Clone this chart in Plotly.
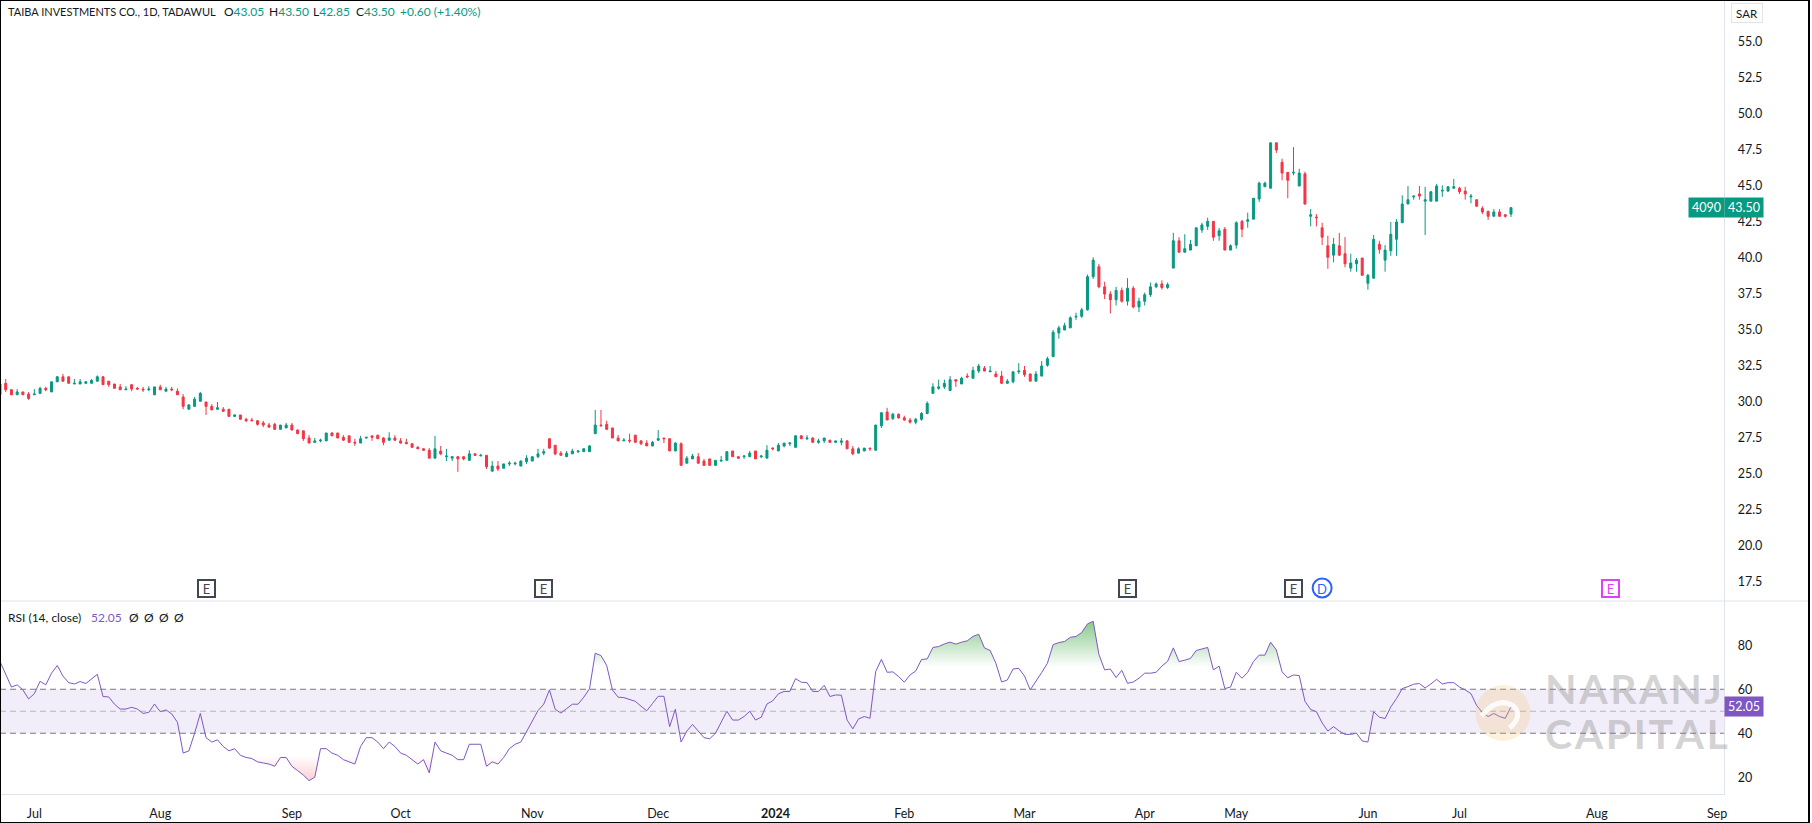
import plotly.graph_objects as go

# TADAWUL:4090 daily bars (bar number = trading day on screen)
bar_open = [30.50,31.30,30.85,30.50,30.70,30.55,30.50,30.60,30.95,30.70,
    31.40,31.75,31.75,31.25,31.25,31.30,31.30,31.45,31.75,31.45,
    31.25,31.05,30.85,31.20,30.95,30.90,30.85,30.50,31.05,30.75,
    30.90,30.75,30.35,29.50,29.70,30.05,30.00,29.70,29.50,29.50,
    29.50,29.00,29.10,28.80,28.75,28.70,28.55,28.40,28.45,28.10,
    28.20,28.40,28.05,28.00,27.50,27.20,27.30,27.30,27.85,27.85,
    27.55,27.65,27.20,27.15,27.50,27.65,27.70,27.50,27.35,27.50,
    27.30,27.20,27.10,26.85,26.75,26.65,26.10,26.60,26.20,26.10,
    26.20,26.20,25.95,26.40,26.25,26.30,25.20,25.55,25.40,25.70,
    25.70,25.55,25.85,25.90,26.20,26.45,27.45,27.00,26.45,26.20,
    26.40,26.55,26.55,26.55,27.80,28.40,28.45,28.20,27.50,27.30,
    27.35,27.70,27.30,27.15,26.95,27.35,27.50,27.45,26.60,27.10,
    25.75,26.05,26.20,25.90,26.05,25.60,25.90,25.95,26.60,26.20,
    26.20,26.20,26.60,26.20,26.10,26.80,26.60,26.95,27.10,26.85,
    27.65,27.45,27.50,27.20,27.30,27.35,27.20,27.20,27.30,26.75,
    26.45,26.60,26.80,26.65,28.35,29.30,28.85,29.15,28.90,28.75,
    28.60,28.80,29.20,30.60,30.95,31.05,30.80,31.55,31.25,31.80,
    31.65,32.15,32.35,32.10,31.95,31.80,31.30,31.40,32.10,32.20,
    31.95,31.45,31.80,32.55,33.15,34.80,35.00,35.15,35.90,35.95,
    36.40,38.70,39.40,38.00,37.50,37.10,37.75,37.00,37.90,36.60,
    37.00,37.45,38.00,38.20,37.95,39.30,41.20,40.40,40.55,40.85,
    41.95,42.20,42.55,41.55,42.00,40.55,40.90,42.55,42.55,42.70,
    44.10,44.95,44.85,48.00,46.65,45.95,45.90,45.00,45.85,42.90,
    42.85,42.10,40.85,40.20,40.85,40.30,39.30,39.60,40.00,38.25,
    38.60,40.95,39.85,40.50,41.30,42.45,43.75,44.25,44.45,43.95,
    43.95,43.95,44.65,44.65,44.85,44.85,44.65,44.25,44.05,43.45,
    43.25,42.90,43.20,43.00,43.05]
bar_high = [31.25,31.60,30.90,30.90,30.70,30.70,30.90,31.05,31.05,31.40,
    31.80,31.95,31.75,31.60,31.60,31.45,31.60,31.85,31.80,31.45,
    31.25,31.25,31.10,31.25,31.05,31.05,31.10,31.05,31.20,31.05,
    31.05,30.95,30.55,29.85,30.35,30.70,30.00,29.85,30.00,29.65,
    29.50,29.15,29.10,28.90,28.90,28.75,28.70,28.55,28.55,28.40,
    28.55,28.55,28.10,28.00,27.70,27.50,27.45,27.85,27.90,27.85,
    27.70,27.65,27.45,27.65,27.55,27.65,27.70,27.55,27.90,27.70,
    27.50,27.45,27.15,26.95,26.80,26.80,27.65,26.95,26.75,26.25,
    26.25,26.20,26.65,26.45,26.40,26.30,25.90,25.90,25.70,25.90,
    25.85,25.95,26.30,26.20,26.75,26.75,27.45,27.00,26.60,26.60,
    26.75,26.65,26.80,27.00,29.45,29.45,28.70,28.20,27.70,27.50,
    27.80,27.70,27.35,27.35,27.30,28.05,27.50,27.45,27.20,27.20,
    26.25,26.40,26.45,26.05,26.05,25.95,26.25,26.60,26.60,26.25,
    26.30,26.60,26.60,26.30,27.00,26.85,27.15,27.15,27.20,27.70,
    27.70,27.70,27.55,27.45,27.50,27.35,27.30,27.50,27.35,26.95,
    26.85,26.80,26.80,28.40,29.30,29.60,29.25,29.20,29.05,28.90,
    28.90,29.30,30.05,31.30,31.55,31.55,31.80,31.55,31.75,32.00,
    32.45,32.65,32.50,32.50,32.15,32.15,31.60,32.10,32.70,32.50,
    31.95,32.15,32.85,33.15,35.00,35.30,35.50,35.95,36.20,36.55,
    38.85,40.05,39.60,38.35,37.70,38.00,37.95,38.60,38.05,37.25,
    37.60,38.30,38.30,38.45,38.30,41.75,41.45,41.65,41.25,42.10,
    42.45,42.80,42.55,42.10,42.15,40.95,42.55,42.65,43.15,44.15,
    45.30,45.30,48.00,48.00,46.90,45.95,47.70,46.20,46.00,43.40,
    43.05,42.45,41.55,41.40,41.75,41.45,40.30,40.00,40.00,38.90,
    41.60,41.20,40.90,42.50,42.70,44.35,45.00,44.35,45.00,44.95,
    44.65,45.15,45.05,45.00,45.50,44.95,44.95,44.45,44.05,43.60,
    43.25,43.40,43.40,43.05,43.50]
bar_low = [30.50,30.70,30.50,30.50,30.50,30.15,30.50,30.55,30.75,30.70,
    31.40,31.40,31.30,31.25,31.25,31.25,31.30,31.40,31.20,31.05,
    30.95,30.85,30.85,30.75,30.85,30.70,30.75,30.50,30.85,30.75,
    30.75,30.50,29.50,29.50,29.65,30.05,29.10,29.45,29.45,29.35,
    29.00,29.00,28.80,28.60,28.70,28.35,28.25,28.25,28.10,28.10,
    28.20,28.05,27.80,27.30,27.15,27.15,27.20,27.30,27.65,27.50,
    27.30,27.20,26.95,27.15,27.45,27.30,27.45,27.00,27.30,27.30,
    27.10,27.10,26.85,26.75,26.60,26.10,26.10,26.30,25.90,25.90,
    25.15,25.95,25.95,26.25,26.25,25.35,25.15,25.20,25.40,25.55,
    25.60,25.55,25.70,25.90,26.10,26.30,26.75,26.30,26.30,26.20,
    26.40,26.45,26.55,26.55,27.80,28.30,28.05,27.50,27.30,27.30,
    27.15,27.20,27.00,26.95,26.95,27.30,27.15,26.60,26.60,25.60,
    25.75,26.05,25.75,25.60,25.60,25.60,25.85,25.95,26.20,26.05,
    26.05,26.20,26.05,26.10,26.10,26.65,26.60,26.85,26.95,26.85,
    27.45,27.35,27.20,27.10,27.15,27.15,27.15,27.00,26.75,26.30,
    26.45,26.60,26.60,26.65,28.20,28.75,28.75,28.85,28.70,28.50,
    28.45,28.70,29.15,30.60,30.85,30.90,30.75,31.05,31.25,31.65,
    31.65,32.00,32.15,32.10,31.75,31.25,31.25,31.30,31.95,31.75,
    31.45,31.45,31.80,32.45,33.15,34.40,35.00,35.15,35.70,35.85,
    36.35,38.55,37.90,37.15,36.15,36.70,36.90,36.70,36.50,36.25,
    36.70,37.30,37.90,37.80,37.85,39.30,40.40,40.40,40.55,40.85,
    41.75,41.95,41.20,41.20,40.55,40.55,40.65,41.45,42.10,42.70,
    43.90,44.95,44.85,47.30,45.40,44.15,45.75,45.00,43.70,42.20,
    42.20,40.90,39.25,39.70,40.15,39.35,39.05,39.05,38.80,37.80,
    38.60,40.30,39.05,40.15,40.15,42.45,43.75,44.05,44.05,41.60,
    43.95,43.95,44.25,44.60,44.80,44.45,44.05,43.80,43.55,43.05,
    42.65,42.90,42.85,42.80,42.85]
bar_close = [31.25,30.85,30.50,30.70,30.50,30.25,30.55,30.95,30.85,31.40,
    31.75,31.45,31.30,31.30,31.40,31.40,31.50,31.75,31.20,31.20,
    30.95,30.85,30.90,30.90,30.90,30.85,30.90,31.05,30.85,30.90,
    30.85,30.50,29.70,29.80,30.20,30.60,29.70,29.45,29.60,29.35,
    29.00,29.10,28.80,28.70,28.70,28.45,28.40,28.25,28.10,28.40,
    28.40,28.05,27.80,27.45,27.15,27.30,27.35,27.85,27.65,27.50,
    27.35,27.20,27.15,27.45,27.55,27.55,27.45,27.20,27.50,27.35,
    27.15,27.10,26.85,26.75,26.65,26.10,26.75,26.40,26.25,26.20,
    26.05,26.05,26.40,26.30,26.30,25.50,25.55,25.35,25.70,25.75,
    25.75,25.90,26.10,26.20,26.40,26.55,26.80,26.40,26.30,26.45,
    26.60,26.60,26.75,26.95,28.40,28.35,28.10,27.50,27.30,27.35,
    27.30,27.20,27.10,26.95,27.20,27.45,27.45,26.60,27.15,25.60,
    26.10,26.25,25.75,25.60,25.60,25.95,25.95,26.55,26.20,26.10,
    26.25,26.45,26.05,26.25,26.65,26.75,27.00,27.15,27.15,27.65,
    27.45,27.50,27.20,27.30,27.50,27.20,27.30,27.30,26.75,26.40,
    26.75,26.80,26.75,28.40,29.25,28.75,29.15,28.90,28.75,28.60,
    28.80,29.20,29.90,31.05,31.05,31.30,31.55,31.45,31.65,31.75,
    32.20,32.50,32.15,32.15,31.75,31.30,31.45,32.10,32.15,31.90,
    31.45,31.95,32.50,33.00,34.85,35.15,35.30,35.85,35.95,36.40,
    38.70,39.85,38.00,37.50,37.10,37.75,37.00,37.90,36.60,37.00,
    37.45,38.00,38.20,37.95,38.15,41.20,40.40,40.65,40.95,42.10,
    42.30,42.55,41.45,41.90,40.55,40.85,42.45,42.00,42.65,44.15,
    45.20,45.20,48.00,47.50,45.90,45.40,45.95,45.90,43.75,43.00,
    42.80,41.45,40.05,40.95,40.20,39.60,39.65,39.85,38.80,38.80,
    41.30,40.60,40.55,41.65,42.50,43.75,44.05,44.30,44.30,44.05,
    44.60,45.00,44.70,44.95,44.95,44.60,44.45,44.30,43.60,43.20,
    42.90,43.20,42.90,42.90,43.50]
rsi_values = [72.6,66.5,61,62,59.7,55.6,58,63.6,62,67.3,
    70.8,66,63,62.4,63.5,62.6,64.7,66.8,56.7,56.5,
    53.2,51,51,51.8,51,49,49.5,53.3,49.8,50.6,
    48.8,45,31,32,40,49,38,36,37,34,
    32,33,30,29,28.5,27,26.5,26,25,29,
    29,25,23,21,18.5,20,33,33,31,30,
    28,27,26,34,38,38,36,33,36,34,
    31,30,28,26,28,22,36,32,31,30,
    28,28,35,35,35,25,27,26,29,33,
    35,36,41,46,50.3,53.2,59.7,50.9,49.2,51.2,
    53.2,53.2,56.4,60.2,76.4,75.3,70.8,59.7,56.4,56.2,
    55.5,54.5,52.3,50.2,53.5,56.8,56.8,43,50.9,36,
    41,44,41,38,37.5,40,45,50,46,46,
    47.6,50,46,47.3,53.3,54.7,57.9,59,59,64.8,
    63.2,63,59,59,61.8,56.7,57.4,57.3,46,42,
    46.5,47.6,46.8,68,73.6,67.7,67.9,65.8,63.2,66.5,
    68.3,73.5,73.8,79,79.4,80.6,81.4,80.5,81.4,82,
    84,85,78.8,77.6,71.8,63.3,64.2,69.2,69.5,66,
    59.7,63.5,67.6,71.8,80.3,81.2,81.7,83.6,84,85.8,
    89.7,90.9,75.8,68.8,69.2,65.3,68.6,62.7,63.3,65,
    67.3,67.3,67.7,70.5,72.7,78.8,72.6,73.2,74,77.6,
    78.3,79,68.8,70.5,60.3,61,67.7,65,67.7,72.6,
    75.5,75.5,81.4,77.9,67.9,65.2,66.5,66.2,54.5,50.8,
    49.8,44.7,41,43,41,39.5,39.5,40,36.5,36,
    49.8,47.3,46.7,52,55.8,60.3,61.2,62.3,62.6,60.6,
    62.4,64.5,62.4,63,63,61,59.7,58,52.6,49.4,
    47.6,49,47.6,46.8,52.05]
bars = list(range(len(bar_close)))

month_bars = [6, 28, 51, 70, 93, 115, 135.5, 158, 179, 200, 216, 239, 255, 279, 300]
month_labels = ["Jul", "Aug", "Sep", "Oct", "Nov", "Dec", "<b>2024</b>", "Feb", "Mar", "Apr",
                "May", "Jun", "Jul", "Aug", "Sep"]
price_ticks = [17.5, 20, 22.5, 25, 27.5, 30, 32.5, 35, 37.5, 40, 42.5, 45, 47.5, 50, 52.5, 55]
rsi_ticks = [20, 40, 60, 80]
event_bars = [36, 95, 197, 226, 281.4]
event_colors = ["#434651", "#434651", "#434651", "#434651", "#E040FB"]
dividend_bar = 231

GREEN = "#089981"
RED = "#F23645"
PURPLE = "#7E57C2"
GREY = "#E0E3EB"
TEXT = "#131722"
FONT = "Lato"
W, H = 1812, 823
AXIS_X = 1727
PANE_Y = 601
TIME_Y = 794
BAR_PX = 5.733


def px(x):
    return x / W


def py(y):
    return 1 - y / H


# rsi clipped to one side of a level, with the crossings added so the fill stays clean
def clip_rsi(level, above):
    xs, ys = [], []
    for i, v in enumerate(rsi_values):
        if i > 0:
            prev = rsi_values[i - 1]
            if (prev - level) * (v - level) < 0:
                xs.append(i - 1 + (level - prev) / (v - prev))
                ys.append(level)
        xs.append(i)
        ys.append(max(v, level) if above else min(v, level))
    return xs, ys


fig = go.Figure()

fig.add_trace(go.Candlestick(
    x=bars, open=bar_open, high=bar_high, low=bar_low, close=bar_close,
    increasing=dict(line=dict(color=GREEN, width=1), fillcolor=GREEN),
    decreasing=dict(line=dict(color=RED, width=1), fillcolor=RED),
    whiskerwidth=0, showlegend=False, hoverinfo="skip", xaxis="x", yaxis="y"))

for level, above, start, stop, color in [
    (70, True, 70, 100, "rgba(76,175,80,0.95)"),
    (30, False, 30, 0, "rgba(242,54,69,0.6)")]:
    xs, ys = clip_rsi(level, above)
    fig.add_trace(go.Scatter(x=xs, y=[level] * len(xs), mode="lines", line=dict(width=0),
                             showlegend=False, hoverinfo="skip", xaxis="x2", yaxis="y2"))
    fig.add_trace(go.Scatter(x=xs, y=ys, mode="lines", line=dict(width=0), fill="tonexty",
                             fillgradient=dict(type="vertical", start=start, stop=stop,
                                               colorscale=[[0, color.rsplit(",", 1)[0] + ",0)"], [1, color]]),
                             showlegend=False, hoverinfo="skip", xaxis="x2", yaxis="y2"))

fig.add_trace(go.Scatter(x=bars, y=rsi_values, mode="lines", line=dict(color=PURPLE, width=1),
                         showlegend=False, hoverinfo="skip", xaxis="x2", yaxis="y2"))

shapes = [
    dict(type="rect", xref="paper", x0=0, x1=px(AXIS_X), yref="y2", y0=40, y1=60,
         fillcolor="rgba(126,87,194,0.1)", line_width=0, layer="below"),
    dict(type="line", xref="paper", x0=0, x1=px(AXIS_X), yref="y2", y0=60, y1=60,
         line=dict(color="#787B86", width=1, dash="6px,4px")),
    dict(type="line", xref="paper", x0=0, x1=px(AXIS_X), yref="y2", y0=50, y1=50,
         line=dict(color="rgba(120,123,134,0.5)", width=1, dash="6px,4px")),
    dict(type="line", xref="paper", x0=0, x1=px(AXIS_X), yref="y2", y0=40, y1=40,
         line=dict(color="#787B86", width=1, dash="6px,4px")),
    dict(type="line", xref="paper", yref="paper", x0=0, x1=1, y0=py(PANE_Y), y1=py(PANE_Y),
         line=dict(color=GREY, width=1)),
    # watermark logo
    dict(type="circle", xref="paper", yref="paper", x0=px(1478), x1=px(1533), y0=py(741), y1=py(685),
         fillcolor="rgba(240,190,90,0.22)", line_width=0),
    dict(type="path", xref="paper", yref="paper",
         path=f"M {px(1484)} {py(716)} Q {px(1500)} {py(696)} {px(1516)} {py(706)} Q {px(1526)} {py(716)} {px(1512)} {py(728)}",
         line=dict(color="rgba(255,255,255,0.85)", width=5)),
    # dividend marker
    dict(type="circle", xref="paper", yref="paper", x0=px(dividend_bar * BAR_PX - 9.5), x1=px(dividend_bar * BAR_PX + 9.5),
         y0=py(597.5), y1=py(578.5), line=dict(color="#2962FF", width=2), fillcolor="white"),
    # outer frame
    dict(type="rect", xref="paper", yref="paper", x0=0, x1=1, y0=0, y1=1, line=dict(color="black", width=2)),
]

annotations = []


def add_text(x, y, text, color=TEXT, size=12, anchor="left", **kw):
    annotations.append(dict(xref="paper", yref="paper", x=px(x), y=py(y), text=text, showarrow=False,
                            xanchor=anchor, yanchor="middle", font=dict(family=FONT, size=size, color=color), **kw))


def g(s):
    return f'<span style="color:{GREEN}">{s}</span>'


add_text(6, 11, "TAIBA INVESTMENTS CO., 1D, TADAWUL", size=11)
add_text(222, 11, "O" + g("43.05"))
add_text(267, 11, "H" + g("43.50"))
add_text(312, 11, "L" + g("42.85"))
add_text(355, 11, "C" + g("43.50"))
add_text(399, 11, g("+0.60 (+1.40%)"))
add_text(6, 617, "RSI (14, close)")
add_text(89, 617, "52.05", color=PURPLE)
for sx in [127, 142, 157, 172]:
    add_text(sx, 617, "Ø")

for b, c in zip(event_bars, event_colors):
    annotations.append(dict(xref="x", yref="paper", x=b, y=py(588.5), text="E", showarrow=False, width=15, height=15,
                            xanchor="center", yanchor="middle", bgcolor="white", bordercolor=c, borderwidth=2,
                            borderpad=0, font=dict(family=FONT, size=13, color=c)))
annotations.append(dict(xref="x", yref="paper", x=dividend_bar, y=py(588.5), text="D", showarrow=False,
                        xanchor="center", yanchor="middle", font=dict(family=FONT, size=13, color="#2962FF")))

# watermark
add_text(1546, 688, "<b>N\u200aA\u200aR\u200aA\u200aN\u200aJ</b>", color="rgba(130,130,130,0.35)", size=41)
add_text(1546, 733, "<b>C\u200aA\u200aP\u200aI\u200aT\u200aA\u200aL</b>", color="rgba(130,130,130,0.35)", size=41)

# price tags on the axis
tag = dict(xanchor="center", yanchor="middle", font=dict(family=FONT, size=12.5, color="white"), showarrow=False,
           xref="paper", yref="paper", borderpad=2)
annotations.append(dict(tag, x=px(1709), y=py(207.6), text="4090", bgcolor=GREEN, width=31))
annotations.append(dict(tag, x=px(1747), y=py(207.6), text="43.50", bgcolor=GREEN, width=34))
annotations.append(dict(tag, x=px(1747), y=py(706.8), text="52.05", bgcolor=PURPLE, width=34))
annotations.append(dict(xanchor="center", yanchor="middle", font=dict(family=FONT, size=11.5, color=TEXT), showarrow=False,
                        xref="paper", yref="paper", x=px(1750), y=py(13), text="SAR", bgcolor="white",
                        bordercolor=GREY, borderwidth=1, width=28, height=16))

x_range = [0, AXIS_X / BAR_PX]
fig.update_layout(
    width=W, height=H, margin=dict(l=0, r=0, t=0, b=0), paper_bgcolor="white", plot_bgcolor="white",
    boxgap=0.5, shapes=shapes, annotations=annotations, showlegend=False,
    font=dict(family=FONT, size=12.5, color=TEXT),
    xaxis=dict(domain=[0, px(AXIS_X)], range=x_range, anchor="y", showticklabels=False, showgrid=False,
               zeroline=False, rangeslider=dict(visible=False), ticks=""),
    yaxis=dict(domain=[py(PANE_Y), 1], range=[16.18, 57.92], side="right", tickvals=price_ticks, tickformat=".1f",
               showgrid=False, zeroline=False, showline=True, linecolor=GREY, ticks="", ticklabelstandoff=10,
               anchor="x"),
    xaxis2=dict(domain=[0, px(AXIS_X)], range=x_range, anchor="y2", tickvals=month_bars, ticktext=month_labels,
                showgrid=False, zeroline=False, showline=True, linecolor=GREY, ticks="", tickangle=0,
                ticklabelstandoff=8),
    yaxis2=dict(domain=[py(TIME_Y), py(PANE_Y)], range=[12.4, 100.1], side="right", tickvals=rsi_ticks,
                showgrid=False, zeroline=False, showline=True, linecolor=GREY, ticks="", ticklabelstandoff=10,
                anchor="x2"),
)

fig.write_html("out.html", config=dict(displayModeBar=False),
               post_script="document.body.style.margin='0';document.body.style.overflow='hidden';")
